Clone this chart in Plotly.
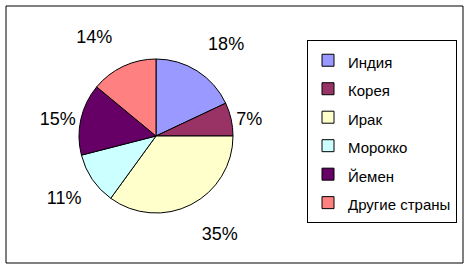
import plotly.graph_objects as go

labels = ["Индия", "Корея", "Ирак", "Морокко", "Йемен", "Другие страны"]
values = [18, 7, 35, 11, 15, 14]
colors = ["#9999FF", "#993366", "#FFFFCC", "#CCFFFF", "#660066", "#FF8080"]
# label layout: blank line after (push up) / before (push down) / none
label_templates = ["%{percent}<br>&nbsp;", "%{percent}", "&nbsp;<br>%{percent}",
                   "&nbsp;<br>%{percent}", "%{percent}", "%{percent}<br>&nbsp;"]

W, H = 470, 270
ml, mr, mt, mb = 6, 7, 6, 7
pw, ph = W - ml - mr, H - mt - mb

cx, cy, r = 156, 136, 77
xd = [(cx - r - ml) / pw, (cx + r - ml) / pw]
yd = [(H - mb - (cy + r)) / ph, (H - mb - (cy - r)) / ph]

legend_labels = ["<span style='font-size:15px'>%s</span>" % l for l in labels]

fig = go.Figure(go.Pie(
    labels=legend_labels,
    values=values,
    sort=False,
    direction="clockwise",
    rotation=0,
    marker=dict(colors=colors, line=dict(color="black", width=1)),
    texttemplate=label_templates,
    textposition="outside",
    outsidetextfont=dict(size=18, color="black", family="Liberation Sans, Arial"),
    domain=dict(x=xd, y=yd),
    hoverinfo="label+percent",
))

fig.add_shape(type="rect", xref="paper", yref="paper", x0=0, x1=1, y0=0, y1=1,
              line=dict(color="black", width=1), fillcolor="rgba(0,0,0,0)")

fig.update_layout(
    width=W, height=H,
    margin=dict(l=ml, r=mr, t=mt, b=mb),
    paper_bgcolor="white", plot_bgcolor="white",
    font=dict(family="Liberation Sans, Arial", color="black"),
    legend=dict(
        x=(457 - ml) / pw, xanchor="right",
        y=(H - mb - 40) / ph, yanchor="top",
        bordercolor="black", borderwidth=1,
        font=dict(size=19.6, color="black", family="Liberation Sans, Arial"),
        bgcolor="white",
    ),
    showlegend=True,
)

fig.write_html("out.html")
